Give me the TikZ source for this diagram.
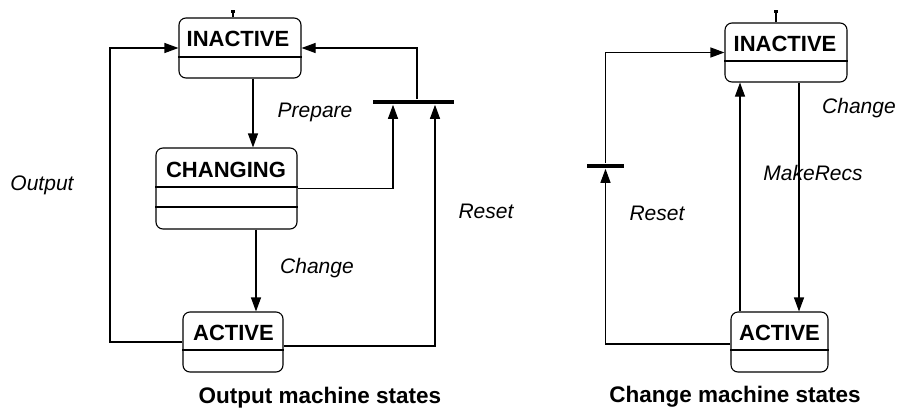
\documentclass[tikz,border=0pt]{standalone}
\usepackage{fontspec}
\setmainfont{Liberation Sans}
\usetikzlibrary{arrows.meta}
\begin{document}
\begin{tikzpicture}[x=1pt,y=-1pt, line width=1.1pt,
  box/.style={draw, rounded corners=7pt, inner sep=0pt, line width=1.1pt},
  ttl/.style={font=\fontsize{22}{26}\selectfont\bfseries, anchor=base, inner sep=0pt},
  lbl/.style={font=\fontsize{21}{25}\selectfont\itshape, anchor=base, inner sep=0pt},
  capt/.style={font=\fontsize{22.5}{27}\selectfont\bfseries, anchor=base, inner sep=0pt},
  bar/.style={fill=black, inner sep=0pt, minimum height=4.5pt},
  arr/.style={-{Triangle[length=14pt,width=10pt]}},
  tickdot/.style={fill=black, inner sep=0pt, minimum size=3.5pt}]
\useasboundingbox (0,0) rectangle (901,410);

% ---------- Output machine ----------
\node[box, minimum width=122pt, minimum height=60pt] (I1) at (240,48) {};
\node[ttl] (I1t) at (238,46) {INACTIVE};
\draw (I1.west |- 0,57) -- (I1.east |- 0,57);

\node[box, minimum width=141pt, minimum height=81pt] (C1) at (226.5,188.5) {};
\node[ttl] (C1t) at (226,177) {CHANGING};
\draw (C1.west |- 0,187) -- (C1.east |- 0,187);
\draw (C1.west |- 0,207) -- (C1.east |- 0,207);

\node[box, minimum width=100pt, minimum height=60pt] (A1) at (233,342) {};
\node[ttl] (A1t) at (233.5,340) {ACTIVE};
\draw (A1.west |- 0,350) -- (A1.east |- 0,350);

\node[bar, minimum width=81pt] (B1) at (413.5,102) {};

% initial tick
\coordinate (t1) at ([xshift=-7pt]I1.north);
\draw (t1) -- ++(0,-6) node[tickdot] (t1d) {};

% Prepare
\coordinate (p1) at ([xshift=13pt]I1.south);
\draw[arr] (p1) -- (p1 |- C1.north);
% Change
\coordinate (p2) at ([xshift=29.5pt]C1.south);
\draw[arr] (p2) -- (p2 |- A1.north);
% to bar
\coordinate (b1l) at ([xshift=-20.5pt]B1.south);
\coordinate (b1r) at ([xshift=21.5pt]B1.south);
\draw[arr] (C1.east) -| (b1l);
\draw[arr] ([yshift=-4pt]A1.east) -| (b1r);
\coordinate (b1t) at ([xshift=3.5pt]B1.north);
\draw[arr] (b1t) |- (I1.east);
% Output
\coordinate (L1) at (110,48);
\draw[arr] (A1.west) -| (L1) -- (I1.west);

\node[lbl] (prep) at (315,117) {Prepare};
\node[lbl] (outl) at (42,190) {Output};
\node[lbl] (res1) at (486,218) {Reset};
\node[lbl] (chg1) at (317,273) {Change};
\node[capt] (cap1) at (320,403) {Output machine states};

% ---------- Change machine ----------
\node[box, minimum width=122pt, minimum height=59pt] (I2) at (786,52.5) {};
\node[ttl] (I2t) at (785,51) {INACTIVE};
\draw (I2.west |- 0,61) -- (I2.east |- 0,61);

\node[box, minimum width=97pt, minimum height=60pt] (A2) at (779.5,342) {};
\node[ttl] (A2t) at (779.5,340) {ACTIVE};
\draw (A2.west |- 0,350) -- (A2.east |- 0,350);

\node[bar, minimum width=37pt] (B2) at (605.5,166) {};

\coordinate (t2) at ([xshift=-10pt]I2.north);
\draw (t2) -- ++(0,-11) node[tickdot] (t2d) {};

\coordinate (q1) at ([xshift=-39.5pt]A2.north);
\draw[arr] (q1) -- (q1 |- I2.south);
\coordinate (q2) at ([xshift=13pt]I2.south);
\draw[arr] (q2) -- (q2 |- A2.north);
\draw[arr] ([yshift=-2pt]A2.west) -| (B2.south);
\draw[arr] (B2.north) |- (I2.west);

\node[lbl] (chg2) at (859,113) {Change};
\node[lbl] (mkr) at (813,180) {MakeRecs};
\node[lbl] (res2) at (657,220) {Reset};
\node[capt] (cap2) at (735,402) {Change machine states};
\end{tikzpicture}
\end{document}
